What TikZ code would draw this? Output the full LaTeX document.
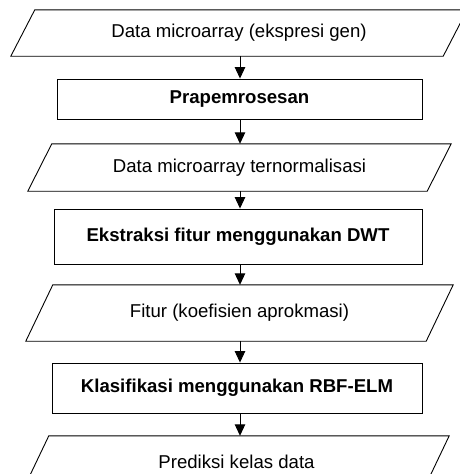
\documentclass[tikz,border=0pt]{standalone}
\usepackage{fontspec}
\setmainfont{Liberation Sans}
\usetikzlibrary{arrows.meta}
\begin{document}
\begin{tikzpicture}[x=1pt,y=-1pt,
  ln/.style={line width=0.9pt,draw=black},
  txt/.style={font=\fontsize{18.6}{22}\selectfont,inner sep=0pt},
  iobox/.style={txt,draw=none,minimum width=#1},
  procbox/.style={txt,ln,font=\fontsize{18.6}{22}\selectfont\bfseries},
  arr/.style={ln,-{Triangle[width=10.5pt,length=11.5pt]}}]
\useasboundingbox (0,0) rectangle (460,474);
\newcommand{\paradraw}[2]{%
  \draw[ln] ([xshift=#2pt]#1.north west) -- ([xshift=#2pt]#1.north east)
    -- ([xshift=-#2pt]#1.south east) -- ([xshift=-#2pt]#1.south west) -- cycle;}
% input/output shapes
\node[iobox=432pt,minimum height=46pt] (p1) at (239,33) {Data microarray (ekspresi gen)};
\node[iobox=399pt,minimum height=47pt] (p2) at (239.5,167.5) {Data microarray ternormalisasi};
\node[iobox=400pt,minimum height=56pt] (p3) at (239.5,313) {Fitur (koefisien aprokmasi)};
\node[iobox=400pt,minimum height=52pt] (p4) at (236.5,462) {Prediksi kelas data};
\paradraw{p1}{12}
\paradraw{p2}{12}
\paradraw{p3}{13.5}
\paradraw{p4}{12.5}
% process boxes
\node[procbox,minimum width=365pt,minimum height=40pt] (b1) at (239.5,99) {Prapemrosesan};
\node[procbox,minimum width=368pt,minimum height=55pt] (b2) at (238,236.5) {Ekstraksi fitur menggunakan DWT};
\node[procbox,minimum width=370pt,minimum height=50pt] (b3) at (237,388) {Klasifikasi menggunakan RBF-ELM};
% connectors
\coordinate (ax) at (240,0);
\draw[arr] (p1.south -| ax) -- (b1.north -| ax);
\draw[arr] (b1.south -| ax) -- (p2.north -| ax);
\draw[arr] (p2.south -| ax) -- (b2.north -| ax);
\draw[arr] (b2.south -| ax) -- (p3.north -| ax);
\draw[arr] (p3.south -| ax) -- (b3.north -| ax);
\draw[arr] (b3.south -| ax) -- (p4.north -| ax);
\end{tikzpicture}
\end{document}
